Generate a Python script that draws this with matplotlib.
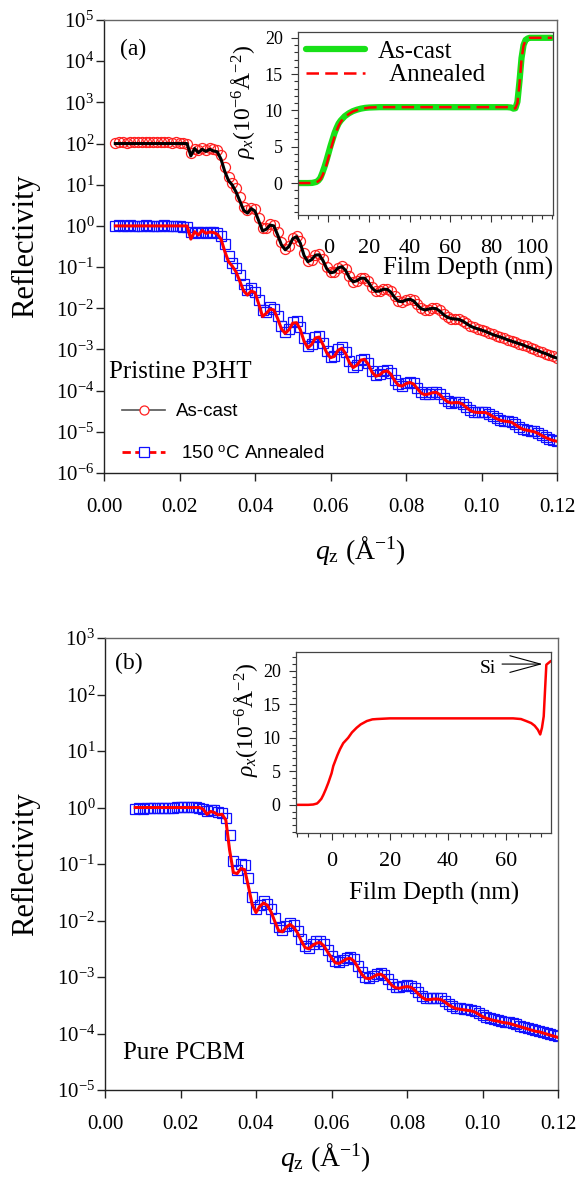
import matplotlib
matplotlib.use('Agg')
import matplotlib.pyplot as plt
import numpy as np
from matplotlib.ticker import MultipleLocator, NullLocator
from matplotlib.lines import Line2D

plt.rcParams['font.family'] = ['Liberation Serif', 'DejaVu Serif']
plt.rcParams['mathtext.fontset'] = 'custom'
plt.rcParams['mathtext.rm'] = 'Liberation Serif'
plt.rcParams['mathtext.it'] = 'Liberation Serif:italic'
plt.rcParams['mathtext.bf'] = 'Liberation Serif:bold'
plt.rcParams['mathtext.sf'] = 'Liberation Sans'

# ---------------- data: panel (a) pristine P3HT ----------------
q_a = [0.003, 0.004, 0.005, 0.006, 0.007, 0.008, 0.009, 0.010, 0.011, 0.012,
       0.013, 0.014, 0.015, 0.016, 0.017, 0.018, 0.019, 0.020, 0.021, 0.022,
       0.023, 0.024, 0.025, 0.026, 0.027, 0.028, 0.029, 0.030, 0.031, 0.032,
       0.033, 0.034, 0.035, 0.036, 0.037, 0.038, 0.039, 0.040, 0.041, 0.042,
       0.043, 0.044, 0.045, 0.046, 0.047, 0.048, 0.049, 0.050, 0.051, 0.052,
       0.053, 0.054, 0.055, 0.056, 0.057, 0.058, 0.059, 0.060, 0.061, 0.062,
       0.063, 0.064, 0.065, 0.066, 0.067, 0.068, 0.069, 0.070, 0.071, 0.072,
       0.073, 0.074, 0.075, 0.076, 0.077, 0.078, 0.079, 0.080, 0.081, 0.082,
       0.083, 0.084, 0.085, 0.086, 0.087, 0.088, 0.089, 0.090, 0.091, 0.092,
       0.093, 0.094, 0.095, 0.096, 0.097, 0.098, 0.099, 0.100, 0.101, 0.102,
       0.103, 0.104, 0.105, 0.106, 0.107, 0.108, 0.109, 0.110, 0.111, 0.112,
       0.113, 0.114, 0.115, 0.116, 0.117, 0.118, 0.119, 0.120]

# log10 reflectivity, as-cast (offset x100) measured
ascast_data_log = [2.02, 2.03, 2.03, 2.02, 2.03, 2.04, 2.03, 2.03, 2.04, 2.03,
                   2.04, 2.03, 2.04, 2.03, 2.03, 2.02, 2.03, 2.02, 2.01, 2.00,
                   1.76, 1.86, 1.84, 1.88, 1.84, 1.88, 1.86, 1.84, 1.72, 1.42,
                   1.18, 1.05, 0.92, 0.70, 0.46, 0.38, 0.44, 0.42, 0.20, -0.05,
                   -0.05, 0.05, 0.03, -0.15, -0.40, -0.55, -0.48, -0.30, -0.24, -0.36,
                   -0.66, -0.85, -0.82, -0.70, -0.68, -0.80, -1.00, -1.12, -1.12, -1.02,
                   -0.98, -1.05, -1.22, -1.35, -1.34, -1.27, -1.26, -1.33, -1.48, -1.58,
                   -1.58, -1.54, -1.53, -1.58, -1.71, -1.82, -1.84, -1.81, -1.78, -1.80,
                   -1.90, -2.00, -2.04, -2.03, -2.00, -2.00, -2.05, -2.14, -2.21, -2.25,
                   -2.26, -2.27, -2.30, -2.36, -2.42, -2.46, -2.50, -2.53, -2.56, -2.60,
                   -2.63, -2.67, -2.70, -2.73, -2.76, -2.80, -2.83, -2.86, -2.89, -2.92,
                   -2.96, -2.99, -3.03, -3.06, -3.10, -3.13, -3.17, -3.20]
ascast_fit_log = [2.00, 2.00, 2.00, 2.00, 2.00, 2.00, 2.00, 2.00, 2.00, 2.00,
                  2.00, 2.00, 2.00, 2.00, 2.00, 2.00, 2.00, 2.00, 2.00, 2.00,
                  1.70, 1.88, 1.78, 1.86, 1.81, 1.86, 1.82, 1.80, 1.62, 1.32,
                  1.10, 0.99, 0.82, 0.60, 0.38, 0.31, 0.42, 0.36, 0.12, -0.12,
                  -0.08, 0.02, 0.00, -0.22, -0.46, -0.58, -0.50, -0.31, -0.26, -0.42,
                  -0.72, -0.87, -0.82, -0.71, -0.70, -0.84, -1.04, -1.14, -1.12, -1.02,
                  -0.99, -1.08, -1.26, -1.36, -1.33, -1.27, -1.27, -1.36, -1.51, -1.59,
                  -1.58, -1.54, -1.54, -1.61, -1.74, -1.83, -1.84, -1.80, -1.78, -1.82,
                  -1.92, -2.01, -2.04, -2.02, -2.00, -2.01, -2.07, -2.16, -2.22, -2.25,
                  -2.26, -2.27, -2.31, -2.37, -2.43, -2.47, -2.50, -2.53, -2.56, -2.60,
                  -2.64, -2.67, -2.70, -2.73, -2.77, -2.80, -2.83, -2.86, -2.89, -2.93,
                  -2.96, -3.00, -3.03, -3.07, -3.10, -3.14, -3.18, -3.21]
annealed_data_log = [0.00, 0.01, -0.01, 0.00, 0.01, 0.00, -0.01, 0.00, 0.01, 0.00,
                     0.00, -0.01, 0.00, 0.01, 0.00, -0.01, -0.01, 0.00, -0.02, -0.03,
                     -0.15, -0.18, -0.16, -0.14, -0.17, -0.14, -0.15, -0.17, -0.24, -0.45,
                     -0.72, -0.90, -1.02, -1.20, -1.40, -1.55, -1.50, -1.60, -1.80, -2.05,
                     -2.10, -1.98, -2.02, -2.18, -2.42, -2.58, -2.50, -2.33, -2.32, -2.46,
                     -2.72, -2.92, -2.86, -2.70, -2.68, -2.84, -3.04, -3.18, -3.15, -3.00,
                     -2.95, -3.06, -3.28, -3.42, -3.37, -3.25, -3.23, -3.33, -3.52, -3.63,
                     -3.60, -3.53, -3.51, -3.58, -3.73, -3.85, -3.88, -3.82, -3.79, -3.82,
                     -3.93, -4.04, -4.09, -4.07, -4.04, -4.03, -4.08, -4.18, -4.26, -4.29,
                     -4.28, -4.28, -4.32, -4.40, -4.47, -4.51, -4.52, -4.52, -4.52, -4.56,
                     -4.62, -4.67, -4.71, -4.73, -4.74, -4.76, -4.82, -4.88, -4.93, -4.95,
                     -4.97, -4.99, -5.03, -5.08, -5.13, -5.17, -5.20, -5.22]
annealed_fit_log = [0.00, 0.00, 0.00, 0.00, 0.00, 0.00, 0.00, 0.00, 0.00, 0.00,
                    0.00, 0.00, 0.00, 0.00, 0.00, 0.00, 0.00, 0.00, 0.00, 0.00,
                    -0.32, -0.14, -0.22, -0.11, -0.18, -0.15, -0.16, -0.20, -0.32, -0.62,
                    -0.87, -0.98, -1.12, -1.35, -1.58, -1.68, -1.58, -1.62, -1.90, -2.20,
                    -2.12, -2.02, -2.04, -2.25, -2.50, -2.61, -2.52, -2.36, -2.35, -2.52,
                    -2.80, -2.96, -2.88, -2.72, -2.70, -2.88, -3.08, -3.20, -3.17, -3.02,
                    -2.97, -3.10, -3.32, -3.44, -3.38, -3.26, -3.24, -3.36, -3.55, -3.65,
                    -3.62, -3.54, -3.52, -3.60, -3.76, -3.87, -3.89, -3.83, -3.80, -3.84,
                    -3.95, -4.06, -4.10, -4.08, -4.05, -4.04, -4.10, -4.20, -4.27, -4.30,
                    -4.29, -4.29, -4.33, -4.41, -4.48, -4.52, -4.53, -4.53, -4.53, -4.57,
                    -4.63, -4.68, -4.72, -4.74, -4.75, -4.77, -4.83, -4.89, -4.94, -4.96,
                    -4.98, -5.00, -5.04, -5.09, -5.14, -5.18, -5.21, -5.23]

# SLD profiles for inset (a)
depth_ascast = [-15, -10, -8, -6, -5, -4, -3, -2, -1, 0, 1, 2, 3, 4, 5, 6, 7, 8, 10, 12,
                14, 16, 18, 20, 25, 40, 60, 80, 88, 90, 91, 92, 93, 94, 95, 96, 97, 98,
                99, 100, 105, 110]
rho_ascast = [0, 0, 0.02, 0.15, 0.35, 0.7, 1.4, 2.2, 3.1, 4.1, 5.1, 6.0, 6.9, 7.6, 8.2,
              8.6, 8.9, 9.2, 9.6, 9.9, 10.1, 10.25, 10.35, 10.4, 10.45, 10.45, 10.45,
              10.45, 10.45, 10.4, 10.25, 10.3, 11.2, 14.0, 17.2, 19.0, 19.7, 19.9, 20.0,
              20.0, 20.0, 20.0]
depth_annealed = [-15, -10, -8, -6, -5, -4, -3, -2, -1, 0, 1, 2, 3, 4, 5, 6, 7, 8, 10, 12,
                  14, 16, 18, 20, 25, 40, 60, 80, 88, 90, 91, 92, 93, 94, 95, 96, 97, 98,
                  99, 100, 105, 110]
rho_annealed = [0, 0, 0.0, 0.1, 0.25, 0.5, 1.0, 1.7, 2.5, 3.5, 4.5, 5.5, 6.4, 7.2, 7.9,
                8.4, 8.8, 9.1, 9.5, 9.85, 10.05, 10.2, 10.3, 10.4, 10.45, 10.45, 10.45,
                10.45, 10.45, 10.4, 10.25, 10.3, 11.0, 13.6, 17.0, 18.9, 19.7, 19.9, 20.0,
                20.0, 20.0, 20.0]

# ---------------- data: panel (b) pure PCBM ----------------
q_b = [0.008, 0.009, 0.010, 0.011, 0.012, 0.013, 0.014, 0.015, 0.016, 0.017,
       0.018, 0.019, 0.020, 0.021, 0.022, 0.023, 0.024, 0.025, 0.026, 0.027,
       0.028, 0.029, 0.030, 0.031, 0.032, 0.033, 0.034, 0.035, 0.036, 0.037,
       0.038, 0.039, 0.040, 0.041, 0.042, 0.043, 0.044, 0.045, 0.046, 0.047,
       0.048, 0.049, 0.050, 0.051, 0.052, 0.053, 0.054, 0.055, 0.056, 0.057,
       0.058, 0.059, 0.060, 0.061, 0.062, 0.063, 0.064, 0.065, 0.066, 0.067,
       0.068, 0.069, 0.070, 0.071, 0.072, 0.073, 0.074, 0.075, 0.076, 0.077,
       0.078, 0.079, 0.080, 0.081, 0.082, 0.083, 0.084, 0.085, 0.086, 0.087,
       0.088, 0.089, 0.090, 0.091, 0.092, 0.093, 0.094, 0.095, 0.096, 0.097,
       0.098, 0.099, 0.100, 0.101, 0.102, 0.103, 0.104, 0.105, 0.106, 0.107,
       0.108, 0.109, 0.110, 0.111, 0.112, 0.113, 0.114, 0.115, 0.116, 0.117,
       0.118, 0.119, 0.120]
pcbm_data_log = [-0.02, -0.01, -0.02, -0.01, -0.01, 0.00, -0.01, 0.00, 0.00, 0.00,
                 0.00, 0.01, 0.01, 0.01, 0.01, 0.01, 0.01, 0.00, -0.02, -0.06,
                 -0.04, -0.05, -0.08, -0.10, -0.18, -0.48, -0.95, -1.10, -1.00, -1.02,
                 -1.25, -1.58, -1.80, -1.72, -1.66, -1.70, -1.80, -1.96, -2.12, -2.16,
                 -2.10, -2.04, -2.08, -2.18, -2.32, -2.45, -2.48, -2.42, -2.37, -2.36,
                 -2.42, -2.52, -2.63, -2.72, -2.74, -2.70, -2.66, -2.64, -2.69, -2.80,
                 -2.92, -3.00, -3.01, -2.98, -2.94, -2.93, -2.97, -3.04, -3.12, -3.17,
                 -3.18, -3.16, -3.15, -3.16, -3.20, -3.27, -3.34, -3.38, -3.38, -3.37,
                 -3.37, -3.38, -3.42, -3.47, -3.51, -3.54, -3.55, -3.56, -3.57, -3.58,
                 -3.60, -3.64, -3.68, -3.71, -3.73, -3.75, -3.76, -3.78, -3.79, -3.80,
                 -3.82, -3.84, -3.86, -3.88, -3.90, -3.92, -3.94, -3.95, -3.97, -3.99,
                 -4.01, -4.03, -4.05]
pcbm_fit_log = [0.00, 0.00, 0.00, 0.00, 0.00, 0.00, 0.00, 0.00, 0.00, 0.00,
                0.00, 0.00, 0.00, 0.00, 0.00, 0.00, 0.00, 0.00, -0.03, -0.12,
                -0.07, -0.09, -0.13, -0.12, -0.22, -0.75, -1.15, -1.17, -1.08, -1.10,
                -1.40, -1.72, -1.86, -1.75, -1.69, -1.73, -1.85, -2.02, -2.18, -2.20,
                -2.12, -2.07, -2.12, -2.22, -2.36, -2.48, -2.50, -2.44, -2.40, -2.39,
                -2.45, -2.56, -2.66, -2.75, -2.76, -2.72, -2.68, -2.67, -2.72, -2.83,
                -2.95, -3.02, -3.03, -3.00, -2.96, -2.95, -2.99, -3.07, -3.15, -3.19,
                -3.20, -3.18, -3.17, -3.18, -3.23, -3.30, -3.36, -3.40, -3.40, -3.39,
                -3.39, -3.40, -3.44, -3.49, -3.53, -3.56, -3.57, -3.58, -3.59, -3.60,
                -3.62, -3.66, -3.70, -3.73, -3.75, -3.77, -3.78, -3.80, -3.81, -3.82,
                -3.84, -3.86, -3.88, -3.90, -3.92, -3.94, -3.96, -3.97, -3.99, -4.01,
                -4.03, -4.05, -4.07]

depth_pcbm = [-12.2, -8, -6.3, -5, -4.5, -3.5, -2.8, -2, -1.1, 0, 0.6, 2, 2.9, 4, 5.7, 7,
              8.6, 10, 12.1, 14, 15.5, 20, 40, 60, 62.3, 65, 66.8, 68.5, 69.7, 70.8,
              71.6, 72.2, 72.8, 73.3, 73.7, 75.1]
rho_pcbm = [0, 0, 0.05, 0.2, 0.4, 0.9, 1.5, 2.3, 3.3, 4.7, 5.8, 7.4, 8.3, 9.2, 10.0, 10.8,
            11.5, 12.0, 12.5, 12.75, 12.8, 12.9, 12.9, 12.9, 12.9, 12.8, 12.5, 12.2, 11.8,
            11.2, 10.5, 11.5, 13.2, 17.5, 20.9, 21.4]

x_ticks = [0.00, 0.02, 0.04, 0.06, 0.08, 0.10, 0.12]
x_ticklabels = ['0.00', '0.02', '0.04', '0.06', '0.08', '0.10', '0.12']

# ---------------- figure ----------------
W, H = 577, 1177
fig = plt.figure(figsize=(W / 100, H / 100), dpi=100)


def fx(px):
    return px / W


def fy(py):
    return 1 - py / H


def rect(l, t, r, b):
    return [fx(l), fy(b), (r - l) / W, (b - t) / H]


def style_main(ax, ylo, yhi):
    ax.set_yscale('log')
    ax.set_xlim(0, 0.12)
    ax.set_ylim(10.0 ** ylo, 10.0 ** yhi)
    exps = list(range(ylo, yhi + 1))
    ax.set_yticks([10.0 ** k for k in exps])
    ax.set_yticklabels([r'$\mathregular{10^{%d}}$' % k for k in exps])
    ax.yaxis.set_minor_locator(NullLocator())
    ax.set_xticks(x_ticks)
    ax.set_xticklabels(x_ticklabels)
    ax.tick_params(axis='both', direction='out', length=6, width=1.0,
                   labelsize=15, color='#222222')
    ax.tick_params(axis='y', pad=1)
    ax.tick_params(axis='x', pad=12)
    for s in ['left', 'bottom']:
        ax.spines[s].set_color('#222222')
        ax.spines[s].set_linewidth(1.0)
    for s in ['top', 'right']:
        ax.spines[s].set_color('#666666')
        ax.spines[s].set_linewidth(1.0)


def style_inset(ax):
    ax.tick_params(which='both', direction='out', color='#333333', width=0.8)
    ax.tick_params(which='major', length=5)
    ax.tick_params(which='minor', length=3)
    ax.tick_params(axis='y', labelsize=13, pad=6)
    ax.tick_params(axis='x', labelsize=16, pad=12)
    for s in ax.spines.values():
        s.set_color('#444444')
        s.set_linewidth(0.9)


MS = 7.2
MEW = 0.9

# ---- panel (a) main ----
axa = fig.add_axes(rect(104, 20, 557, 473))
style_main(axa, -6, 5)
qa = np.array(q_a)
axa.plot(qa, 10.0 ** np.array(ascast_data_log), ls='none', marker='o', ms=MS,
         mfc='none', mec='#ff2020', mew=MEW, zorder=2)
axa.plot(qa, 10.0 ** np.array(annealed_data_log), ls='none', marker='s', ms=MS,
         mfc='none', mec='#1010ff', mew=MEW, zorder=2)
axa.plot(qa, 10.0 ** np.array(ascast_fit_log), color='black', lw=2.2, zorder=3)
axa.plot(qa, 10.0 ** np.array(annealed_fit_log), color='#ff0000', lw=2.2, zorder=3)

h1 = Line2D([], [], color='#555555', lw=1.2, marker='o', ms=6.5, mfc='white',
            mec='#ff2020', mew=0.9)
h2 = Line2D([], [], color='#ff0000', lw=2.0, ls=(0, (3, 1.6)), marker='s', ms=6.5,
            mfc='white', mec='#1010ff', mew=0.9)
axa.legend([h1, h2], ['As-cast', r' 150 $^{\mathsf{o}}$C Annealed'],
           loc='upper left', bbox_to_anchor=(fx(122), fy(403)),
           bbox_transform=fig.transFigure, frameon=False, borderpad=0,
           borderaxespad=0, handlelength=2.3, handletextpad=0.6,
           labelspacing=1.35, prop={'family': 'Liberation Sans', 'size': 13.5})

fig.text(fx(133), fy(49), '(a)', fontsize=17, ha='center', va='center')
fig.text(fx(109), fy(372), 'Pristine P3HT', fontsize=18, ha='left', va='center')
fig.text(fx(26), fy(246), 'Reflectivity', fontsize=22, rotation=90,
         ha='center', va='center')
fig.text(fx(360), fy(550), r'$q_{\mathrm{z}}$ (Å$^{-1}$)', fontsize=20,
         ha='center', va='center')

# ---- inset (a) ----
ina = fig.add_axes(rect(298, 32, 553, 215))
style_inset(ina)
ina.plot(depth_ascast, rho_ascast, color='#18e018', lw=4.5, solid_capstyle='round')
ina.plot(depth_annealed, rho_annealed, color='#ff0000', lw=1.8, dashes=(5, 2.5))
ina.set_xlim(-15, 110.5)
ina.set_ylim(-4.4, 20.8)
ina.set_xticks([0, 20, 40, 60, 80, 100])
ina.set_yticks([0, 5, 10, 15, 20])
ina.xaxis.set_minor_locator(MultipleLocator(5))
ina.yaxis.set_minor_locator(MultipleLocator(1))
gh = Line2D([], [], color='#18e018', lw=4.5, solid_capstyle='round')
rh = Line2D([], [], color='#ff0000', lw=1.8, dashes=(5, 2.5))
ina.legend([gh, rh], ['As-cast', '  Annealed'], loc='upper left',
           bbox_to_anchor=(fx(306), fy(40)), bbox_transform=fig.transFigure,
           frameon=False, borderpad=0, borderaxespad=0, handlelength=2.36,
           handletextpad=0.5, labelspacing=0.05, fontsize=18)
fig.text(fx(243), fy(102), r'$\rho_x$(10$^{-6}$Å$^{-2}$)', fontsize=17,
         rotation=90, ha='center', va='center')
fig.text(fx(553), fy(268), 'Film Depth (nm)', fontsize=18, ha='right', va='center')

# ---- panel (b) main ----
axb = fig.add_axes(rect(105, 638, 558, 1090))
style_main(axb, -5, 3)
qb = np.array(q_b)
axb.plot(qb, 10.0 ** np.array(pcbm_data_log), ls='none', marker='s', ms=MS,
         mfc='none', mec='#1010ff', mew=MEW, zorder=2)
axb.plot(qb, 10.0 ** np.array(pcbm_fit_log), color='#ff0000', lw=2.2, zorder=3)

fig.text(fx(129), fy(663), '(b)', fontsize=17, ha='center', va='center')
fig.text(fx(123), fy(1053), 'Pure PCBM', fontsize=18, ha='left', va='center')
fig.text(fx(26), fy(864), 'Reflectivity', fontsize=22, rotation=90,
         ha='center', va='center')
fig.text(fx(325), fy(1157), r'$q_{\mathrm{z}}$ (Å$^{-1}$)', fontsize=20,
         ha='center', va='center')

# ---- inset (b) ----
inb = fig.add_axes(rect(296, 652, 551, 833))
style_inset(inb)
inb.plot(depth_pcbm, rho_pcbm, color='#ff0000', lw=1.8)
inb.set_xlim(-12.2, 75.3)
inb.set_ylim(-4.2, 22.8)
inb.set_xticks([0, 20, 40, 60])
inb.set_yticks([0, 5, 10, 15, 20])
inb.xaxis.set_minor_locator(MultipleLocator(4))
inb.yaxis.set_minor_locator(MultipleLocator(1))
inb.tick_params(axis='x', pad=9)
inb.annotate('', xy=(72.4, 21.0), xytext=(58.5, 21.0),
             arrowprops=dict(arrowstyle='->,head_length=1.1,head_width=0.3',
                             lw=0.8, color='black', mutation_scale=20,
                             shrinkA=0, shrinkB=0))
inb.text(56.5, 20.3, 'Si', fontsize=14, ha='right', va='center')
fig.text(fx(246), fy(720), r'$\rho_x$(10$^{-6}$Å$^{-2}$)', fontsize=17,
         rotation=90, ha='center', va='center')
fig.text(fx(434), fy(893), 'Film Depth (nm)', fontsize=18, ha='center', va='center')

fig.savefig('out.png', dpi=100)
